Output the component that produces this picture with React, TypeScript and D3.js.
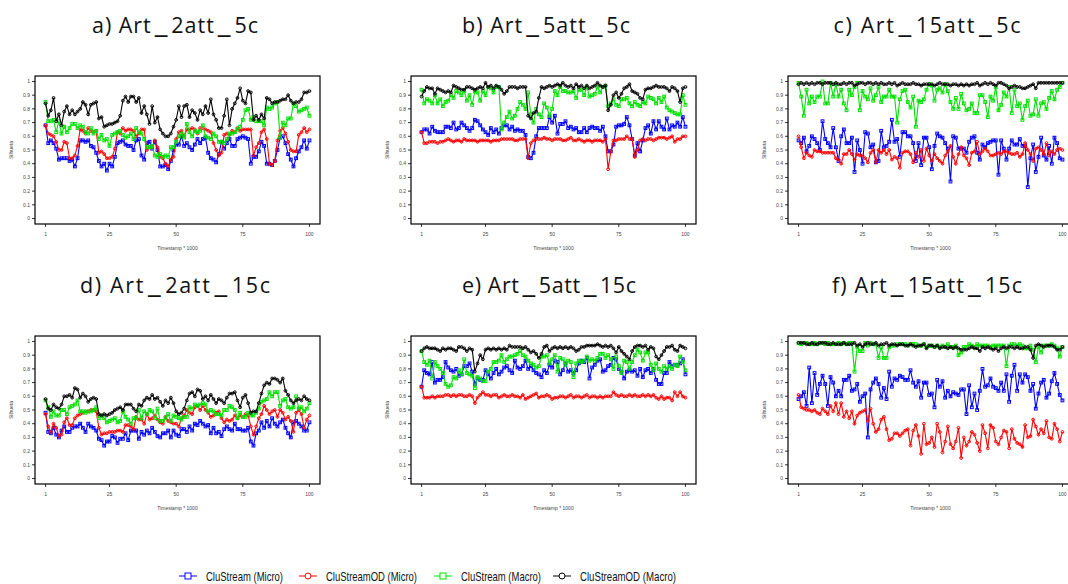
import React from "react";
import * as d3 from "d3";

const xTicks = [1, 25, 50, 75, 100];
const yTicks = [0, 0.1, 0.2, 0.3, 0.4, 0.5, 0.6, 0.7, 0.8, 0.9, 1];
const yTickLabels = ["0", "0.1", "0.2", "0.3", "0.4", "0.5", "0.6", "0.7", "0.8", "0.9", "1"];
const panelTitles = ["a) Art_2att_5c", "b) Art_5att_5c", "c) Art_15att_5c", "d) Art_2att_15c", "e) Art_5att_15c", "f) Art_15att_15c"];
const seriesNames = ["CluStream (Micro)", "CluStreamOD (Micro)", "CluStream (Macro)", "CluStreamOD (Macro)"];
const seriesColors = ["#0000ff", "#ff0000", "#00e000", "#000000"];
const seriesShapes = ["square", "circle", "square", "circle"];
const xLabel = "Timestamp * 1000";
const yLabel = "Silhueta";

// Panel a) Art_2att_5c
const aBlue = [0.68,0.55,0.57,0.55,0.51,0.43,0.44,0.44,0.44,0.42, 0.43,0.38,0.44,0.57,0.57,0.56,0.57,0.53,0.52,0.48, 0.42,0.38,0.40,0.35,0.40,0.38,0.45,0.55,0.56,0.57, 0.54,0.53,0.53,0.50,0.57,0.58,0.46,0.43,0.55,0.56, 0.51,0.56,0.50,0.38,0.38,0.39,0.36,0.42,0.50,0.54, 0.54,0.60,0.53,0.55,0.52,0.50,0.54,0.58,0.55,0.58, 0.59,0.48,0.44,0.43,0.41,0.47,0.56,0.51,0.55,0.58, 0.53,0.53,0.58,0.59,0.60,0.59,0.58,0.40,0.45,0.45, 0.49,0.56,0.53,0.40,0.40,0.39,0.42,0.50,0.59,0.60, 0.55,0.47,0.43,0.38,0.44,0.49,0.52,0.57,0.51,0.57];
const aRed = [0.68,0.62,0.61,0.60,0.56,0.50,0.50,0.56,0.55,0.44, 0.44,0.46,0.53,0.65,0.64,0.62,0.66,0.64,0.63,0.64, 0.48,0.49,0.47,0.44,0.44,0.45,0.51,0.63,0.62,0.66, 0.64,0.65,0.65,0.64,0.60,0.62,0.65,0.65,0.50,0.52, 0.52,0.57,0.52,0.45,0.44,0.40,0.38,0.43,0.45,0.58, 0.63,0.64,0.60,0.65,0.65,0.66,0.65,0.62,0.66,0.66, 0.65,0.64,0.63,0.55,0.50,0.46,0.48,0.61,0.62,0.61, 0.64,0.63,0.66,0.64,0.65,0.65,0.65,0.65,0.46,0.52, 0.55,0.63,0.65,0.58,0.40,0.39,0.42,0.57,0.64,0.66, 0.62,0.56,0.50,0.49,0.49,0.61,0.63,0.66,0.63,0.65];
const aGreen = [0.85,0.71,0.71,0.72,0.63,0.71,0.62,0.67,0.63,0.66, 0.69,0.69,0.66,0.68,0.67,0.63,0.62,0.66,0.62,0.64, 0.58,0.61,0.57,0.58,0.53,0.61,0.62,0.63,0.64,0.61, 0.59,0.60,0.62,0.58,0.66,0.63,0.62,0.58,0.52,0.52, 0.53,0.46,0.45,0.47,0.45,0.46,0.45,0.52,0.52,0.56, 0.60,0.62,0.59,0.69,0.63,0.60,0.64,0.63,0.64,0.68, 0.60,0.59,0.58,0.62,0.60,0.56,0.56,0.55,0.58,0.62, 0.62,0.63,0.65,0.67,0.72,0.79,0.80,0.72,0.74,0.71, 0.71,0.71,0.68,0.81,0.80,0.81,0.84,0.85,0.59,0.70, 0.68,0.73,0.73,0.84,0.82,0.78,0.79,0.80,0.81,0.75];
const aBlack = [0.84,0.75,0.79,0.88,0.71,0.76,0.68,0.78,0.82,0.76, 0.79,0.76,0.78,0.80,0.85,0.83,0.76,0.83,0.84,0.85, 0.73,0.74,0.67,0.68,0.69,0.69,0.70,0.71,0.75,0.86, 0.89,0.85,0.89,0.89,0.85,0.88,0.77,0.82,0.76,0.69, 0.82,0.70,0.74,0.65,0.62,0.60,0.60,0.62,0.67,0.72, 0.82,0.74,0.82,0.83,0.74,0.79,0.77,0.72,0.79,0.76, 0.82,0.77,0.87,0.76,0.72,0.66,0.66,0.75,0.87,0.68, 0.80,0.84,0.88,0.95,0.86,0.84,0.93,0.92,0.72,0.75, 0.72,0.76,0.73,0.88,0.87,0.84,0.85,0.85,0.86,0.87, 0.87,0.90,0.86,0.84,0.85,0.85,0.87,0.92,0.92,0.93];

// Panel b) Art_5att_5c
const bBlue = [0.63,0.65,0.65,0.62,0.67,0.64,0.63,0.63,0.63,0.67, 0.67,0.66,0.70,0.65,0.66,0.70,0.68,0.66,0.64,0.66, 0.72,0.71,0.68,0.65,0.63,0.61,0.66,0.63,0.65,0.62, 0.66,0.68,0.68,0.65,0.67,0.64,0.65,0.64,0.64,0.61, 0.45,0.44,0.48,0.60,0.66,0.66,0.66,0.66,0.74,0.70, 0.75,0.62,0.69,0.69,0.71,0.66,0.67,0.65,0.66,0.63, 0.63,0.66,0.63,0.66,0.67,0.66,0.66,0.64,0.67,0.60, 0.49,0.49,0.54,0.67,0.68,0.68,0.69,0.74,0.68,0.58, 0.46,0.55,0.49,0.57,0.66,0.68,0.62,0.71,0.65,0.71, 0.67,0.65,0.73,0.65,0.68,0.67,0.70,0.67,0.74,0.67];
const bRed = [0.63,0.55,0.55,0.56,0.56,0.56,0.55,0.56,0.56,0.57, 0.58,0.57,0.56,0.57,0.57,0.56,0.58,0.57,0.57,0.57, 0.57,0.56,0.57,0.57,0.57,0.57,0.56,0.57,0.57,0.57, 0.58,0.58,0.58,0.58,0.58,0.57,0.57,0.58,0.58,0.58, 0.44,0.55,0.57,0.58,0.58,0.58,0.59,0.58,0.58,0.57, 0.58,0.58,0.58,0.57,0.57,0.58,0.59,0.57,0.57,0.58, 0.57,0.56,0.57,0.57,0.56,0.57,0.57,0.57,0.56,0.58, 0.36,0.49,0.57,0.57,0.58,0.58,0.58,0.60,0.58,0.58, 0.45,0.50,0.57,0.58,0.57,0.58,0.58,0.57,0.58,0.59, 0.59,0.59,0.58,0.59,0.60,0.56,0.58,0.58,0.60,0.60];
const bGreen = [0.94,0.84,0.87,0.86,0.84,0.90,0.84,0.87,0.82,0.85, 0.86,0.90,0.88,0.93,0.92,0.90,0.93,0.86,0.90,0.83, 0.93,0.92,0.86,0.93,0.90,0.96,0.95,0.92,0.96,0.96, 0.65,0.70,0.74,0.78,0.73,0.75,0.80,0.85,0.83,0.80, 0.92,0.76,0.70,0.80,0.76,0.74,0.84,0.81,0.75,0.80, 0.93,0.90,0.96,0.93,0.93,0.92,0.92,0.93,0.88,0.94, 0.94,0.90,0.96,0.89,0.90,0.91,0.96,0.92,0.96,0.97, 0.82,0.84,0.87,0.83,0.82,0.87,0.87,0.88,0.84,0.82, 0.85,0.83,0.82,0.85,0.84,0.89,0.88,0.87,0.84,0.88, 0.85,0.89,0.81,0.79,0.78,0.77,0.76,0.76,0.90,0.83];
const bBlack = [0.89,0.93,0.96,0.95,0.95,0.91,0.95,0.94,0.93,0.92, 0.93,0.92,0.97,0.96,0.95,0.94,0.94,0.96,0.96,0.95, 0.94,0.95,0.96,0.95,0.99,0.96,0.97,0.95,0.97,0.96, 0.94,0.91,0.93,0.96,0.96,0.96,0.95,0.96,0.96,0.96, 0.75,0.73,0.77,0.78,0.88,0.96,0.95,0.96,0.97,0.96, 0.97,0.98,0.97,0.99,0.97,0.96,0.97,0.95,0.98,0.96, 0.97,0.95,0.97,0.95,0.96,0.97,0.99,0.97,0.96,0.97, 0.79,0.83,0.90,0.92,0.88,0.91,0.95,0.96,0.98,0.93, 0.92,0.91,0.88,0.87,0.94,0.95,0.95,0.96,0.97,0.96, 0.96,0.96,0.95,0.93,0.96,0.95,0.93,0.85,0.95,0.96];

// Panel c) Art_15att_5c
const cBlue = [0.57,0.55,0.59,0.49,0.53,0.60,0.58,0.55,0.50,0.71, 0.58,0.55,0.52,0.66,0.52,0.42,0.60,0.65,0.55,0.55, 0.59,0.34,0.57,0.50,0.40,0.63,0.62,0.52,0.54,0.41, 0.42,0.64,0.52,0.53,0.56,0.72,0.56,0.58,0.45,0.63, 0.63,0.60,0.60,0.55,0.42,0.55,0.39,0.59,0.59,0.52, 0.36,0.53,0.62,0.60,0.59,0.55,0.51,0.27,0.60,0.59, 0.51,0.51,0.51,0.48,0.56,0.59,0.60,0.48,0.43,0.54, 0.52,0.55,0.56,0.57,0.57,0.32,0.57,0.51,0.43,0.51, 0.57,0.54,0.54,0.58,0.53,0.53,0.23,0.44,0.54,0.34, 0.45,0.59,0.46,0.43,0.53,0.40,0.59,0.55,0.44,0.43];
const cRed = [0.60,0.52,0.44,0.48,0.46,0.45,0.50,0.49,0.49,0.48, 0.48,0.48,0.48,0.48,0.44,0.43,0.40,0.47,0.47,0.50, 0.47,0.43,0.47,0.46,0.46,0.44,0.41,0.48,0.50,0.41, 0.50,0.48,0.50,0.47,0.50,0.43,0.45,0.44,0.37,0.48, 0.49,0.49,0.47,0.41,0.48,0.45,0.50,0.42,0.51,0.46, 0.42,0.47,0.44,0.42,0.40,0.46,0.49,0.53,0.45,0.40, 0.47,0.52,0.46,0.44,0.39,0.48,0.49,0.56,0.47,0.49, 0.51,0.49,0.46,0.46,0.47,0.48,0.47,0.49,0.49,0.48, 0.47,0.47,0.48,0.45,0.47,0.55,0.50,0.47,0.42,0.51, 0.52,0.50,0.47,0.55,0.46,0.49,0.47,0.50,0.51,0.50];
const cGreen = [0.99,0.89,0.75,0.94,0.84,0.89,0.85,0.89,0.89,1.00, 0.84,0.84,0.99,0.89,0.98,0.89,0.94,0.84,0.79,0.94, 0.90,0.96,0.99,0.79,0.93,0.89,0.87,0.95,0.86,0.90, 0.96,0.85,0.89,0.89,0.94,0.89,0.89,0.70,0.87,0.93, 0.94,0.85,0.81,0.89,0.67,0.86,0.85,0.87,0.94,0.98, 0.97,0.86,0.94,0.95,0.92,0.98,0.93,0.85,0.80,0.88, 0.80,0.91,0.84,0.79,0.80,0.84,0.77,0.77,0.90,0.90, 0.85,0.74,0.89,0.86,0.96,0.79,0.83,0.92,0.89,0.96, 0.77,0.94,0.82,0.84,0.72,0.82,0.86,0.75,0.76,0.87, 0.75,0.84,0.85,0.80,0.88,0.93,0.87,0.94,0.96,0.99];
const cBlack = [0.98,0.99,0.98,0.99,0.98,0.99,0.98,0.99,0.99,0.98, 0.99,0.99,0.99,0.98,0.99,0.98,0.98,0.99,0.98,0.99, 0.99,0.97,0.98,0.99,0.99,0.98,0.99,0.99,0.98,0.99, 0.98,0.99,0.98,0.98,0.99,0.98,0.99,0.97,0.98,0.99, 0.98,0.98,0.98,0.99,0.98,0.98,0.97,0.98,0.98,0.98, 0.98,0.97,0.98,0.99,0.98,0.98,0.98,0.97,0.98,0.98, 0.97,0.98,0.97,0.98,0.97,0.98,0.98,0.99,0.97,0.98, 0.99,0.98,0.99,0.98,0.97,0.99,0.99,0.98,0.97,0.95, 0.96,0.97,0.96,0.96,0.95,0.95,0.96,0.97,0.98,0.95, 0.99,0.99,0.99,0.99,0.99,0.99,0.99,0.99,0.99,0.99];

// Panel d) Art_2att_15c
const dBlue = [0.48,0.34,0.33,0.37,0.32,0.30,0.35,0.38,0.34,0.34, 0.37,0.38,0.38,0.40,0.37,0.34,0.40,0.38,0.37,0.35, 0.29,0.28,0.24,0.27,0.27,0.31,0.30,0.26,0.29,0.29, 0.33,0.28,0.35,0.35,0.35,0.29,0.34,0.32,0.35,0.33, 0.37,0.34,0.31,0.30,0.33,0.33,0.35,0.30,0.35,0.32, 0.31,0.36,0.36,0.34,0.38,0.35,0.40,0.39,0.42,0.40, 0.38,0.39,0.33,0.37,0.33,0.34,0.31,0.36,0.38,0.36, 0.35,0.40,0.36,0.36,0.35,0.35,0.37,0.27,0.24,0.33, 0.35,0.41,0.37,0.42,0.38,0.44,0.40,0.38,0.41,0.43, 0.37,0.33,0.30,0.41,0.42,0.40,0.38,0.35,0.35,0.41];
const dRed = [0.47,0.38,0.34,0.40,0.37,0.31,0.32,0.41,0.44,0.39, 0.39,0.44,0.46,0.47,0.48,0.49,0.49,0.50,0.50,0.49, 0.37,0.32,0.33,0.33,0.34,0.34,0.34,0.35,0.35,0.34, 0.39,0.39,0.38,0.36,0.45,0.43,0.43,0.40,0.47,0.43, 0.44,0.46,0.43,0.41,0.40,0.45,0.42,0.41,0.40,0.40, 0.38,0.44,0.46,0.50,0.48,0.47,0.52,0.53,0.50,0.53, 0.50,0.48,0.45,0.46,0.48,0.49,0.44,0.41,0.43,0.42, 0.43,0.46,0.44,0.46,0.45,0.47,0.46,0.38,0.32,0.38, 0.44,0.47,0.53,0.50,0.47,0.49,0.50,0.45,0.50,0.48, 0.43,0.45,0.42,0.34,0.48,0.50,0.47,0.37,0.43,0.46];
const dGreen = [0.57,0.52,0.45,0.49,0.46,0.46,0.50,0.50,0.47,0.52, 0.53,0.54,0.57,0.49,0.49,0.48,0.49,0.49,0.50,0.52, 0.44,0.46,0.44,0.41,0.42,0.43,0.44,0.41,0.42,0.49, 0.45,0.43,0.40,0.44,0.44,0.50,0.44,0.49,0.47,0.50, 0.49,0.44,0.51,0.42,0.42,0.44,0.47,0.42,0.46,0.45, 0.44,0.43,0.45,0.45,0.52,0.51,0.54,0.53,0.54,0.55, 0.54,0.49,0.50,0.49,0.47,0.47,0.46,0.50,0.50,0.53, 0.52,0.50,0.44,0.48,0.45,0.45,0.48,0.46,0.46,0.48, 0.51,0.56,0.57,0.58,0.63,0.60,0.63,0.63,0.53,0.57, 0.58,0.52,0.51,0.52,0.60,0.51,0.52,0.49,0.51,0.55];
const dBlack = [0.58,0.51,0.50,0.54,0.52,0.51,0.54,0.60,0.60,0.61, 0.59,0.66,0.65,0.59,0.62,0.60,0.56,0.58,0.59,0.58, 0.47,0.46,0.47,0.46,0.47,0.48,0.50,0.51,0.52,0.50, 0.54,0.54,0.54,0.51,0.49,0.54,0.53,0.57,0.59,0.58, 0.61,0.58,0.59,0.56,0.53,0.57,0.55,0.59,0.55,0.49, 0.47,0.48,0.51,0.57,0.62,0.63,0.60,0.65,0.64,0.58, 0.60,0.57,0.61,0.58,0.55,0.58,0.57,0.55,0.59,0.62, 0.62,0.63,0.57,0.52,0.59,0.61,0.55,0.48,0.49,0.49, 0.55,0.62,0.68,0.70,0.69,0.73,0.73,0.72,0.70,0.73, 0.64,0.61,0.57,0.55,0.57,0.58,0.57,0.60,0.58,0.57];

// Panel e) Art_5att_15c
const eBlue = [0.67,0.79,0.77,0.76,0.85,0.70,0.72,0.72,0.74,0.85, 0.81,0.79,0.78,0.80,0.75,0.76,0.82,0.82,0.84,0.78, 0.69,0.73,0.72,0.72,0.79,0.76,0.73,0.77,0.80,0.76, 0.78,0.81,0.82,0.79,0.77,0.86,0.81,0.80,0.82,0.86, 0.80,0.82,0.79,0.77,0.76,0.74,0.79,0.77,0.83,0.81, 0.86,0.85,0.76,0.79,0.84,0.78,0.79,0.77,0.79,0.84, 0.86,0.85,0.88,0.73,0.81,0.83,0.86,0.87,0.78,0.79, 0.82,0.83,0.88,0.87,0.80,0.78,0.73,0.78,0.79,0.78, 0.79,0.75,0.80,0.74,0.79,0.80,0.77,0.80,0.72,0.69, 0.69,0.77,0.77,0.85,0.82,0.83,0.83,0.84,0.87,0.76];
const eRed = [0.67,0.59,0.59,0.59,0.60,0.59,0.60,0.60,0.60,0.61, 0.61,0.60,0.61,0.60,0.61,0.61,0.60,0.60,0.61,0.60, 0.55,0.59,0.61,0.63,0.61,0.61,0.60,0.61,0.61,0.59, 0.60,0.61,0.60,0.60,0.61,0.60,0.60,0.59,0.61,0.58, 0.59,0.60,0.61,0.62,0.59,0.60,0.60,0.61,0.60,0.58, 0.59,0.59,0.60,0.60,0.59,0.60,0.61,0.59,0.60,0.60, 0.59,0.60,0.61,0.59,0.60,0.60,0.59,0.60,0.59,0.60, 0.60,0.60,0.63,0.61,0.60,0.61,0.60,0.60,0.61,0.60, 0.61,0.60,0.60,0.61,0.60,0.61,0.60,0.61,0.59,0.58, 0.60,0.58,0.59,0.59,0.57,0.63,0.60,0.63,0.60,0.59];
const eGreen = [0.93,0.85,0.83,0.86,0.73,0.85,0.82,0.80,0.77,0.69, 0.67,0.68,0.74,0.73,0.79,0.76,0.87,0.77,0.76,0.75, 0.66,0.74,0.73,0.71,0.71,0.78,0.80,0.85,0.85,0.86, 0.90,0.85,0.87,0.89,0.89,0.90,0.91,0.93,0.90,0.89, 0.86,0.84,0.83,0.81,0.82,0.89,0.89,0.90,0.84,0.87, 0.90,0.78,0.88,0.87,0.83,0.86,0.85,0.74,0.84,0.86, 0.85,0.86,0.89,0.86,0.87,0.86,0.88,0.91,0.91,0.88, 0.90,0.87,0.80,0.89,0.82,0.77,0.86,0.85,0.80,0.85, 0.90,0.94,0.92,0.86,0.92,0.92,0.83,0.79,0.84,0.80, 0.78,0.82,0.80,0.82,0.80,0.83,0.82,0.89,0.85,0.79];
const eBlack = [0.93,0.95,0.96,0.95,0.95,0.95,0.94,0.93,0.95,0.94, 0.95,0.95,0.94,0.93,0.96,0.96,0.95,0.93,0.95,0.94, 0.78,0.84,0.90,0.87,0.94,0.95,0.94,0.95,0.94,0.95, 0.94,0.95,0.94,0.97,0.96,0.96,0.96,0.96,0.95,0.96, 0.94,0.92,0.93,0.91,0.88,0.91,0.96,0.97,0.93,0.95, 0.96,0.95,0.96,0.95,0.96,0.95,0.96,0.95,0.93,0.94, 0.96,0.96,0.97,0.97,0.97,0.97,0.98,0.97,0.96,0.97, 0.96,0.97,0.95,0.92,0.96,0.93,0.91,0.89,0.87,0.93, 0.96,0.97,0.97,0.96,0.97,0.94,0.96,0.95,0.89,0.87, 0.90,0.93,0.96,0.96,0.97,0.94,0.93,0.97,0.96,0.95];

// Panel f) Art_15att_15c
const fBlue = [0.58,0.60,0.63,0.53,0.81,0.55,0.77,0.61,0.69,0.75, 0.69,0.53,0.74,0.70,0.60,0.64,0.60,0.72,0.72,0.75, 0.64,0.65,0.69,0.56,0.60,0.62,0.30,0.65,0.70,0.73, 0.69,0.59,0.66,0.58,0.78,0.67,0.73,0.72,0.75,0.74, 0.72,0.72,0.79,0.70,0.67,0.71,0.59,0.70,0.70,0.61, 0.62,0.52,0.72,0.67,0.71,0.59,0.64,0.60,0.63,0.62, 0.61,0.65,0.65,0.47,0.68,0.52,0.62,0.50,0.64,0.80, 0.67,0.68,0.73,0.67,0.66,0.64,0.70,0.64,0.76,0.56, 0.75,0.83,0.64,0.76,0.70,0.76,0.74,0.64,0.69,0.51, 0.62,0.70,0.72,0.59,0.62,0.71,0.77,0.69,0.61,0.57];
const fRed = [0.61,0.52,0.51,0.50,0.50,0.49,0.50,0.48,0.47,0.51, 0.49,0.47,0.53,0.49,0.55,0.47,0.55,0.45,0.49,0.44, 0.49,0.40,0.46,0.48,0.49,0.50,0.42,0.51,0.40,0.34, 0.36,0.43,0.45,0.36,0.28,0.29,0.33,0.33,0.31,0.33, 0.35,0.36,0.24,0.35,0.39,0.31,0.18,0.40,0.25,0.26, 0.30,0.23,0.40,0.34,0.19,0.27,0.38,0.25,0.22,0.27, 0.37,0.15,0.30,0.24,0.27,0.34,0.32,0.26,0.20,0.39, 0.33,0.22,0.39,0.37,0.27,0.25,0.30,0.35,0.34,0.22, 0.36,0.29,0.26,0.25,0.23,0.39,0.30,0.31,0.43,0.38, 0.32,0.36,0.33,0.42,0.30,0.29,0.40,0.36,0.27,0.34];
const fGreen = [0.99,0.98,0.99,0.99,0.98,0.98,0.99,0.98,0.99,0.99, 0.98,0.99,0.98,0.98,0.98,0.99,0.98,0.99,0.98,0.99, 0.99,0.78,0.96,0.93,0.93,0.99,0.97,0.99,0.98,0.98, 0.88,0.96,0.88,0.88,0.96,0.97,0.97,0.98,0.98,0.98, 0.98,0.97,0.98,0.98,0.98,0.97,0.97,0.98,0.96,0.97, 0.97,0.96,0.97,0.96,0.97,0.96,0.98,0.96,0.96,0.97, 0.90,0.92,0.96,0.96,0.98,0.97,0.96,0.98,0.97,0.97, 0.97,0.97,0.96,0.97,0.97,0.97,0.97,0.97,0.82,0.97, 0.98,0.98,0.97,0.98,0.97,0.95,0.95,0.97,0.94,0.85, 0.96,0.92,0.97,0.97,0.97,0.98,0.97,0.95,0.89,0.96];
const fBlack = [0.99,0.99,0.99,0.98,0.98,0.99,0.98,0.98,0.99,0.99, 0.99,0.98,0.98,0.99,0.98,0.98,0.98,0.99,0.98,0.98, 0.98,0.99,0.97,0.98,0.96,0.98,0.99,0.98,0.98,0.99, 0.97,0.98,0.98,0.99,0.97,0.98,0.98,0.97,0.98,0.98, 0.97,0.97,0.98,0.97,0.96,0.97,0.97,0.98,0.95,0.97, 0.97,0.96,0.97,0.95,0.96,0.96,0.95,0.96,0.95,0.96, 0.95,0.94,0.94,0.94,0.95,0.96,0.95,0.95,0.93,0.96, 0.95,0.96,0.95,0.94,0.95,0.93,0.95,0.96,0.95,0.96, 0.96,0.95,0.96,0.95,0.95,0.96,0.96,0.94,0.88,0.97, 0.98,0.97,0.96,0.97,0.97,0.97,0.96,0.94,0.94,0.96];

const panelData = [
  [aBlue, aRed, aGreen, aBlack],
  [bBlue, bRed, bGreen, bBlack],
  [cBlue, cRed, cGreen, cBlack],
  [dBlue, dRed, dGreen, dBlack],
  [eBlue, eRed, eGreen, eBlack],
  [fBlue, fRed, fGreen, fBlack],
];

const W = 1068;
const H = 584;
const boxW = 285;
const boxH = 148;
const colLefts = [35, 411, 788];
const rowTops = [76, 336];
const titleYs = [33, 293];
const titleCenters = [175, 546, 927, 175, 549, 927];
const titleWidths = [166, 168, 187, 190, 174, 190];
const legendXs = [179, 299, 434, 553];
const legendTextWidths = [77, 91, 80, 96];

function Title({ idx }: { idx: number }) {
  const parts = panelTitles[idx].split("_");
  const children: React.ReactNode[] = [];
  parts.forEach((p, i) => {
    if (i > 0) {
      children.push(
        <tspan key={"u" + i} dx={3} fontSize={29}>
          _
        </tspan>
      );
      children.push(
        <tspan key={"p" + i} dx={3}>
          {p}
        </tspan>
      );
    } else {
      children.push(<tspan key={"p" + i}>{p}</tspan>);
    }
  });
  return (
    <text
      x={titleCenters[idx]}
      y={titleYs[Math.floor(idx / 3)]}
      textAnchor="middle"
      fontFamily="'Open Sans', sans-serif"
      fontSize={21.5}
      fill="#111"
      textLength={titleWidths[idx]}
      lengthAdjust="spacing"
    >
      {children}
    </text>
  );
}

function Panel({ idx }: { idx: number }) {
  const left = colLefts[idx % 3];
  const top = rowTops[Math.floor(idx / 3)];
  const bottom = top + boxH;
  const xPad = (100 - 1) * 0.04;
  const x = d3.scaleLinear().domain([1 - xPad, 100 + xPad]).range([left, left + boxW]);
  const y = d3.scaleLinear().domain([-0.04, 1.04]).range([bottom, top]);
  const line = d3
    .line<number>()
    .x((_, i) => x(i + 1))
    .y((d) => y(d));
  const series = panelData[idx];
  const cx = left + boxW / 2;
  return (
    <g>
      <Title idx={idx} />
      {series.map((vals, s) => (
        <g key={s}>
          <path d={line(vals) || ""} fill="none" stroke={seriesColors[s]} strokeWidth={1.1} />
          {vals.map((v, i) =>
            seriesShapes[s] === "square" ? (
              <rect
                key={i}
                x={x(i + 1) - 1.4}
                y={y(v) - 1.4}
                width={2.8}
                height={2.8}
                fill="none"
                stroke={seriesColors[s]}
                strokeWidth={1}
              />
            ) : (
              <circle key={i} cx={x(i + 1)} cy={y(v)} r={1.4} fill="none" stroke={seriesColors[s]} strokeWidth={1} />
            )
          )}
        </g>
      ))}
      <rect x={left} y={top} width={boxW} height={boxH} fill="none" stroke="#000" strokeWidth={1.2} />
      {yTicks.map((t, i) => (
        <g key={"y" + i}>
          <line x1={left - 3} x2={left} y1={y(t)} y2={y(t)} stroke="#000" strokeWidth={0.8} />
          <text x={left - 5} y={y(t)} dy="0.35em" textAnchor="end" fontFamily="'Liberation Sans', Arial, sans-serif" fontSize={5} fill="#444">
            {yTickLabels[i]}
          </text>
        </g>
      ))}
      {xTicks.map((t, i) => (
        <g key={"x" + i}>
          <line x1={x(t)} x2={x(t)} y1={bottom} y2={bottom + 3} stroke="#000" strokeWidth={0.8} />
          <text x={x(t)} y={bottom + 12} textAnchor="middle" fontFamily="'Liberation Sans', Arial, sans-serif" fontSize={5} fill="#444">
            {t}
          </text>
        </g>
      ))}
      <text x={cx} y={bottom + 26} textAnchor="middle" fontFamily="'Liberation Sans', Arial, sans-serif" fontSize={5} fill="#444">
        {xLabel}
      </text>
      <text
        transform={`translate(${left - 22},${(top + bottom) / 2}) rotate(-90)`}
        textAnchor="middle"
        fontFamily="'Liberation Sans', Arial, sans-serif"
        fontSize={5}
        fill="#444"
      >
        {yLabel}
      </text>
    </g>
  );
}

export default function App() {
  return (
    <svg width={W} height={H} style={{ position: "absolute", left: 0, top: 0, background: "#fff" }}>
      <rect x={0} y={0} width={W} height={H} fill="#fff" />
      {panelTitles.map((_, i) => (
        <Panel key={i} idx={i} />
      ))}
      {seriesNames.map((name, s) => {
        const lx = legendXs[s];
        const ly = 576;
        return (
          <g key={name}>
            <line x1={lx} x2={lx + 18} y1={ly} y2={ly} stroke={seriesColors[s]} strokeWidth={1} />
            {seriesShapes[s] === "square" ? (
              <rect x={lx + 9 - 3} y={ly - 3} width={6} height={6} fill="#fff" stroke={seriesColors[s]} strokeWidth={1} />
            ) : (
              <circle cx={lx + 9} cy={ly} r={3} fill="#fff" stroke={seriesColors[s]} strokeWidth={1} />
            )}
            <text
              x={lx + 27}
              y={ly}
              dy="0.35em"
              fontFamily="'Liberation Sans', Arial, sans-serif"
              fontSize={13}
              fill="#111"
              textLength={legendTextWidths[s]}
              lengthAdjust="spacingAndGlyphs"
            >
              {name}
            </text>
          </g>
        );
      })}
    </svg>
  );
}
